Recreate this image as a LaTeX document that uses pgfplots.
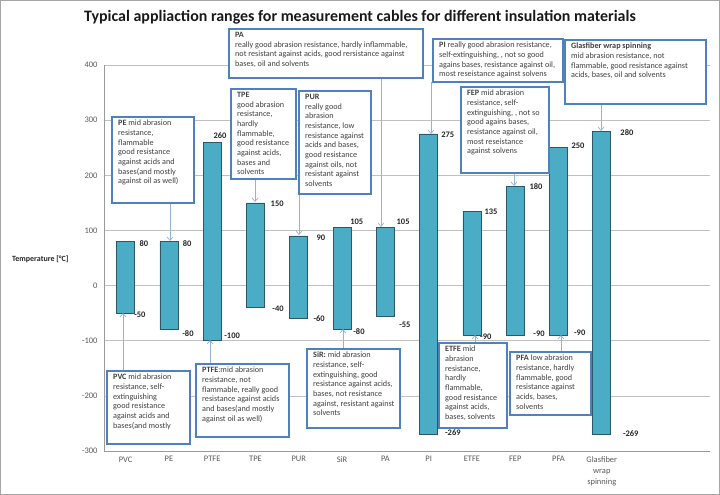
\documentclass[border=0pt]{standalone}
\usepackage{fontspec}
\setmainfont{Carlito}
\usepackage{pgfplots}
\usepackage{pgfplotstable}
\pgfplotsset{compat=1.18}
\usetikzlibrary{arrows.meta}

\definecolor{barfill}{HTML}{4BACC6}
\definecolor{barline}{HTML}{2B5866}
\definecolor{boxline}{HTML}{4F81BD}
\definecolor{arrowc}{HTML}{95B3D7}
\definecolor{txt}{HTML}{404040}
\definecolor{tickc}{HTML}{595959}
\definecolor{gridc}{HTML}{C0C0C0}
\definecolor{framec}{HTML}{A6A6A6}

% temperature range per material
\pgfplotstableread{
x  low   high
0  -50   80
1  -80   80
2  -100  260
3  -40   150
4  -60   90
5  -80   105
6  -55   105
7  -269  275
8  -90   135
9  -90   180
10 -90   250
11 -269  280
}\ranges

% value labels, placed as in the original
\pgfplotstableread{
x      y     label
0.42   76    80
1.42   76    80
2.18   271   260
3.50   149   150
4.51   87    90
5.34   115   105
6.41   115   105
7.44   273   275
8.44   133   135
9.48   180   180
10.45  253   250
11.58  278   280
0.33   -53   -50
1.44   -87   -80
2.46   -91   -100
3.52   -42   -40
4.47   -60   -60
5.39   -84   -80
6.45   -71   -55
7.56   -267  -269
8.32   -93   -90
9.55   -87   -90
10.49  -85   -90
11.67  -269  -269
}\vallabels

\tikzset{
  box/.style={draw=boxline, line width=1.5bp, fill=white},
  arr/.style={draw=arrowc, line width=0.7bp, -{Straight Barb[length=3.5bp,width=6bp]}},
  boxtext/.style={anchor=north west, align=left, inner sep=0pt, text=txt,
    font=\fontsize{8.2}{9.7}\selectfont},
}
% box corners, arrow x, arrow start y, arrow end y, text (pixel units)
\newcommand\callout[8]{%
  \draw[arr] (#5,#6) -- (#5,#7);
  \draw[box] (#1,#2) rectangle (#3,#4);
  \node[boxtext] at (#1+6,#2+3) {#8};
}

\begin{document}
\begin{tikzpicture}
\useasboundingbox (0,0) rectangle (720bp,495bp);

\pgfplotsset{base/.style={
  at={(104bp,44bp)}, anchor=south west,
  width=606bp, height=386bp, scale only axis,
  xmin=-0.5, xmax=13.5, ymin=-300, ymax=400,
}}

\begin{axis}[base,
  ybar stacked, stack negative=on previous, bar width=18bp,
  ytick distance=100, xtick={0,...,11},
  xticklabels={PVC,PE,PTFE,TPE,PUR,SiR,PA,PI,ETFE,FEP,PFA,{Glasfiber\\wrap\\spinning}},
  x tick label style={align=center, font=\fontsize{8.5}{11}\selectfont, text=tickc, yshift=-2bp},
  y tick label style={font=\fontsize{8.5}{10}\selectfont, text=tickc, xshift=-3bp},
  /pgf/number format/assume math mode=true,
  axis x line*=bottom, axis y line*=left,
  axis line style={draw=gridc!80!black},
  major tick length=0pt,
  ymajorgrids, grid style={draw=gridc, line width=0.6bp},
]
\addplot[draw=none, fill=none] table[x=x, y=low] {\ranges};
\addplot[fill=barfill, draw=barline, line width=0.6bp]
  table[x=x, y expr=\thisrow{high}-\thisrow{low}] {\ranges};
\end{axis}

\begin{axis}[base, hide axis, clip=false]
\addplot[draw=none, mark=none,
  nodes near coords, point meta=explicit symbolic,
  nodes near coords style={anchor=center, inner sep=0pt, text=black!85,
    font=\fontsize{8.5}{10}\selectfont\bfseries}]
  table[x=x, y=y, meta=label] {\vallabels};
\end{axis}

\begin{scope}[x=1bp, y=-1bp, shift={(0,495bp)}]
\draw[framec, line width=1bp] (0.5,0.5) rectangle (719.5,494.5);

\node[font=\fontsize{16}{18}\selectfont\bfseries, text=black!90] at (360,17)
  {Typical appliaction ranges for measurement cables for different insulation materials};
\node[anchor=west, inner sep=0pt, font=\fontsize{8}{9}\selectfont\bfseries, text=black!85]
  at (12,259) {Temperature [°C]};

\callout{112}{117}{194}{203}{170}{203}{241}{\textbf{PE} mid abrasion\\resistance,\\flammable\\good resistance\\against acids and\\bases(and mostly\\against oil as well)}
\callout{231}{89}{296}{179}{255}{179}{202}{\textbf{TPE}\\good abrasion\\resistance,\\hardly\\flammable,\\good resistance\\against acids,\\bases and\\solvents}
\callout{299}{91}{371}{194}{299}{194}{235}{\textbf{PUR}\\really good\\abrasion\\resistance, low\\resistance against\\acids and bases,\\good resistance\\against oils, not\\resistant against\\solvents}
\callout{229}{29}{423}{78}{381}{78}{227}{\textbf{PA}\\really good abrasion resistance, hardly inflammable,\\not resistant against acids, good rersistance against\\bases, oil and solvents}
\callout{433}{39}{563}{82}{431}{82}{134}{\textbf{PI} really good abrasion resistance,\\self-extinguishing, , not so good\\agains bases, resistance against oil,\\most reseistance against solvens}
\callout{461}{87}{549}{173}{514}{173}{186}{\textbf{FEP} mid abrasion\\resistance, self-\\extinguishing, , not so\\good agains bases,\\resistance against oil,\\most reseistance\\against solvens}
\callout{565}{40}{706}{104}{601}{104}{131}{\textbf{Glasfiber wrap spinning}\\mid abrasion resistance, not\\flammable, good resistance against\\acids, bases, oil and solvents}
\callout{107}{371}{190}{444}{123}{371}{313}{\textbf{PVC} mid abrasion\\resistance, self-\\extinguishing\\good resistance\\against acids and\\bases(and mostly}
\callout{196}{364}{289}{437}{210}{364}{340}{\textbf{PTFE}:mid abrasion\\resistance, not\\flammable, really good\\resistance against acids\\and bases(and mostly\\against oil as well)}
\callout{307}{349}{400}{428}{343}{349}{329}{\textbf{SiR:} mid abrasion\\resistance, self-\\extinguishing, good\\resistance against acids,\\bases, not resistance\\against, resistant against\\solvents}
\callout{439}{343}{507}{428}{475}{343}{335}{\textbf{ETFE} mid\\abrasion\\resistance,\\hardly\\flammable,\\good resistance\\against acids,\\bases, solvents}
\callout{510}{352}{591}{415}{561}{352}{335}{\textbf{PFA} low abrasion\\resistance, hardly\\flammable, good\\resistance against\\acids, bases,\\solvents}
\end{scope}
\end{tikzpicture}
\end{document}
